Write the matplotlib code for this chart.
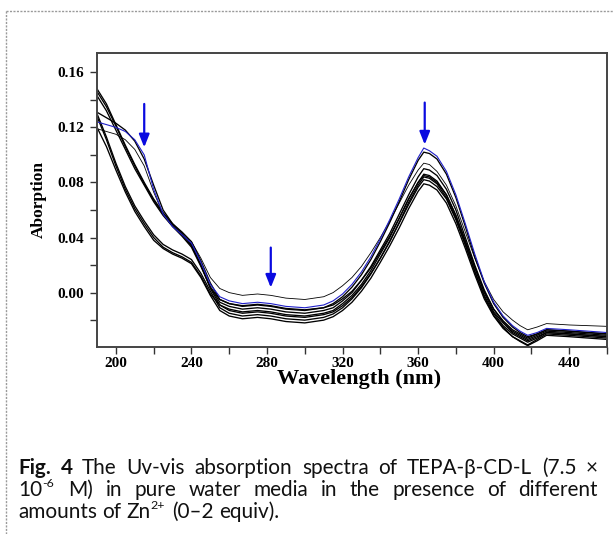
import matplotlib
matplotlib.use("Agg")
import matplotlib.pyplot as plt
from matplotlib.lines import Line2D
from matplotlib.ticker import MultipleLocator, FixedLocator

# ---------------- data ----------------
wavelength = [190, 195, 200, 205, 210, 215, 220, 225, 230, 235, 240, 245, 250,
              255, 260, 267, 275, 282, 290, 300,
              310, 315, 320, 325, 330, 335, 340, 345, 350, 355, 360, 363, 366,
              370, 375, 380, 385, 390, 395, 400, 405, 410, 414,
              418, 423, 428, 440, 460]

abs_blue = [0.124, 0.122, 0.120, 0.117, 0.111, 0.100, 0.075, 0.057, 0.048, 0.042, 0.036, 0.022, 0.006,
            -0.003, -0.006, -0.008, -0.007, -0.008, -0.010, -0.011,
            -0.009, -0.006, -0.001, 0.006, 0.015, 0.026, 0.039, 0.053, 0.068, 0.084, 0.098, 0.105, 0.103,
            0.099, 0.088, 0.071, 0.050, 0.028, 0.008, -0.007, -0.017, -0.024, -0.028,
            -0.031, -0.029, -0.026, -0.027, -0.029]

abs_thin = [0.119, 0.117, 0.115, 0.111, 0.104, 0.092, 0.073, 0.057, 0.048, 0.042, 0.037, 0.025, 0.011,
            0.003, 0.000, -0.002, -0.001, -0.002, -0.004, -0.005,
            -0.003, 0.000, 0.005, 0.011, 0.019, 0.029, 0.040, 0.052, 0.065, 0.078, 0.089, 0.094, 0.093,
            0.088, 0.078, 0.063, 0.044, 0.025, 0.008, -0.005, -0.014, -0.020, -0.024,
            -0.027, -0.025, -0.0225, -0.0235, -0.0245]

abs_k1 = [0.131, 0.127, 0.123, 0.118, 0.110, 0.097, 0.078, 0.060, 0.050, 0.044, 0.037, 0.023, 0.007,
          -0.005, -0.008, -0.010, -0.009, -0.010, -0.012, -0.013,
          -0.011, -0.008, -0.003, 0.004, 0.013, 0.024, 0.037, 0.051, 0.066, 0.082, 0.096, 0.102, 0.101,
          0.097, 0.086, 0.069, 0.048, 0.026, 0.007, -0.008, -0.018, -0.025, -0.029,
          -0.032, -0.030, -0.027, -0.028, -0.030]

abs_k2 = [0.146, 0.135, 0.121, 0.106, 0.092, 0.079, 0.067, 0.057, 0.049, 0.042, 0.034, 0.020, 0.004,
          -0.007, -0.010, -0.012, -0.011, -0.012, -0.014, -0.015,
          -0.013, -0.011, -0.006, 0.000, 0.009, 0.019, 0.031, 0.043, 0.057, 0.071, 0.084, 0.090, 0.089,
          0.085, 0.075, 0.060, 0.040, 0.020, 0.002, -0.012, -0.021, -0.028, -0.031,
          -0.034, -0.031, -0.028, -0.029, -0.031]

abs_k3 = [0.148, 0.137, 0.122, 0.107, 0.093, 0.080, 0.068, 0.058, 0.050, 0.043, 0.035, 0.020, 0.003,
          -0.009, -0.012, -0.014, -0.013, -0.014, -0.016, -0.017,
          -0.015, -0.013, -0.008, -0.002, 0.006, 0.016, 0.028, 0.040, 0.054, 0.068, 0.080, 0.086, 0.085,
          0.081, 0.071, 0.056, 0.037, 0.018, 0.000, -0.014, -0.022, -0.029, -0.032,
          -0.035, -0.032, -0.029, -0.030, -0.032]

abs_k4 = [0.143, 0.132, 0.118, 0.104, 0.090, 0.078, 0.066, 0.056, 0.048, 0.041, 0.033, 0.019, 0.004,
          -0.005, -0.008, -0.0095, -0.0085, -0.0095, -0.0115, -0.0125,
          -0.011, -0.009, -0.0045, 0.001, 0.009, 0.018, 0.0295, 0.041, 0.054, 0.068, 0.080, 0.085, 0.084,
          0.080, 0.071, 0.056, 0.0375, 0.0185, 0.001, -0.012, -0.0205, -0.027, -0.030,
          -0.033, -0.030, -0.027, -0.028, -0.030]

abs_k5 = [0.130, 0.113, 0.094, 0.077, 0.063, 0.052, 0.042, 0.035, 0.031, 0.028, 0.024, 0.014, 0.001,
          -0.011, -0.015, -0.017, -0.016, -0.017, -0.019, -0.020,
          -0.018, -0.0155, -0.011, -0.0045, 0.0035, 0.0135, 0.025, 0.0375, 0.051, 0.0655, 0.078, 0.084, 0.083,
          0.079, 0.069, 0.054, 0.035, 0.015, -0.003, -0.0165, -0.025, -0.032, -0.035,
          -0.038, -0.034, -0.030, -0.031, -0.033]

abs_k6 = [0.128, 0.111, 0.092, 0.075, 0.061, 0.050, 0.040, 0.033, 0.029, 0.026, 0.022, 0.012, -0.001,
          -0.009, -0.013, -0.015, -0.014, -0.015, -0.017, -0.018,
          -0.016, -0.014, -0.0095, -0.0035, 0.0045, 0.014, 0.025, 0.037, 0.0505, 0.064, 0.0765, 0.082, 0.081,
          0.077, 0.068, 0.053, 0.0345, 0.0155, -0.002, -0.015, -0.024, -0.030, -0.033,
          -0.036, -0.033, -0.029, -0.030, -0.032]

abs_k7 = [0.120, 0.106, 0.089, 0.073, 0.059, 0.048, 0.038, 0.032, 0.028, 0.025, 0.021, 0.011, -0.002,
          -0.013, -0.017, -0.019, -0.018, -0.019, -0.021, -0.022,
          -0.020, -0.0175, -0.013, -0.007, 0.001, 0.0105, 0.022, 0.034, 0.047, 0.061, 0.0735, 0.079, 0.078,
          0.0745, 0.065, 0.050, 0.032, 0.013, -0.0045, -0.017, -0.026, -0.032, -0.0355,
          -0.0385, -0.035, -0.031, -0.032, -0.034]

black_series = [abs_k7, abs_k6, abs_k5, abs_k3, abs_k2, abs_k4, abs_k1]
thin_series = [abs_thin]

x_ticks = [200, 240, 280, 320, 360, 400, 440]
y_ticks = [0.00, 0.04, 0.08, 0.12, 0.16]

# arrows: (wavelength, start absorbance, end absorbance)
arrow_x = [215, 282, 363.5]
arrow_from = [0.137, 0.0327, 0.138]
arrow_to = [0.1055, 0.0036, 0.1075]

# ---------------- figure ----------------
W, H = 613, 534
fig = plt.figure(figsize=(W / 100, H / 100), dpi=100)
fig.patch.set_facecolor("white")

ax = fig.add_axes([97 / W, 1 - 347 / H, (607 - 97) / W, (347 - 53) / H])

for s in black_series:
    ax.plot(wavelength, s, color="black", lw=0.95, solid_joinstyle="round")
for s in thin_series:
    ax.plot(wavelength, s, color="black", lw=0.6)
ax.plot(wavelength, abs_blue, color="#2020c8", lw=0.8)

for xa, y0, y1 in zip(arrow_x, arrow_from, arrow_to):
    ax.annotate("", xy=(xa, y1), xytext=(xa, y0),
                arrowprops=dict(arrowstyle="-|>,head_length=0.55,head_width=0.22", color="#0a0ae0",
                                lw=1.6, mutation_scale=14, shrinkA=0, shrinkB=0))

ax.set_xlim(190, 460)
ax.set_ylim(-0.0395, 0.174)
ax.xaxis.set_major_locator(FixedLocator(x_ticks))
ax.xaxis.set_minor_locator(MultipleLocator(20))
ax.yaxis.set_major_locator(FixedLocator(y_ticks))
ax.yaxis.set_minor_locator(MultipleLocator(0.02))
ax.set_xticklabels([str(v) for v in x_ticks])
ax.set_yticklabels(["%.2f" % v for v in y_ticks])

serif = ["Liberation Serif", "DejaVu Serif"]
for lab in ax.get_xticklabels() + ax.get_yticklabels():
    lab.set_fontfamily(serif)
    lab.set_fontweight("bold")
    lab.set_fontsize(11)

ax.tick_params(which="both", direction="out", length=5, width=1.0, color="#333333")
ax.tick_params(axis="x", which="both", pad=2)
ax.tick_params(axis="y", which="both", pad=4)
for sp in ax.spines.values():
    sp.set_color("#444444")
    sp.set_linewidth(1.4)

ax.set_xlabel("Wavelength (nm)", fontfamily=serif, fontweight="bold", fontsize=16, labelpad=-3)
ax.xaxis.set_label_coords((359 - 97) / (607 - 97), -0.075)
ax.xaxis.label.set_va("top")
ax.set_ylabel("Aborption", fontfamily=serif, fontweight="bold", fontsize=12.5)
ax.yaxis.set_label_coords((47 - 97) / (607 - 97), 0.5)

# ---------------- dashed frame ----------------
fig.add_artist(Line2D([6 / W, 1.0], [1 - 11 / H, 1 - 11 / H], transform=fig.transFigure,
                      color="#9a9a9a", lw=1.0, linestyle=(0, (1.5, 1.0))))
fig.add_artist(Line2D([6 / W, 6 / W], [1 - 11 / H, 0.0], transform=fig.transFigure,
                      color="#9a9a9a", lw=1.0, linestyle=(0, (1.5, 1.0))))

# ---------------- caption (justified) ----------------
cap_font = ["Lato", "Noto Sans", "DejaVu Sans"]
caption_lines = [
    [[("Fig.", "b")], [("4", "b")], [("The", "n")], [("Uv-vis", "n")], [("absorption", "n")],
     [("spectra", "n")], [("of", "n")], [("TEPA-β-CD-L", "n")], [("(7.5", "n")], [("×", "n")]],
    [[("10", "n"), ("-6", "s")], [("M)", "n")], [("in", "n")], [("pure", "n")], [("water", "n")],
     [("media", "n")], [("in", "n")], [("the", "n")], [("presence", "n")], [("of", "n")],
     [("different", "n")]],
    [[("amounts", "n")], [("of", "n")], [("Zn", "n"), ("2+", "s")], [("(0–2", "n")], [("equiv).", "n")]],
]
justify = [True, True, False]
line_y = [466, 488, 510]
x_left, x_right = 18, 598

renderer = fig.canvas.get_renderer()
cap_size = 12.0


def seg_props(kind, size):
    if kind == "b":
        return dict(fontsize=size, fontweight="bold")
    if kind == "s":
        return dict(fontsize=size * 0.6, fontweight="normal")
    return dict(fontsize=size, fontweight="normal")


def measure(txt, kind, size):
    t = fig.text(0, 0, txt, family=cap_font, **seg_props(kind, size))
    w = t.get_window_extent(renderer).width
    t.remove()
    return w


# fit the font size so the first line, with natural spaces, nearly fills the column
sp0 = measure("a b", "n", cap_size) - measure("ab", "n", cap_size)
nat = sum(measure(t, k, cap_size) for wd in caption_lines[0] for t, k in wd) + sp0 * (len(caption_lines[0]) - 1)
cap_size = cap_size * (x_right - x_left - 40) / nat

space_w = measure("a b", "n", cap_size) - measure("ab", "n", cap_size)
for words, just, ly in zip(caption_lines, justify, line_y):
    widths = [[measure(txt, k, cap_size) for txt, k in wd] for wd in words]
    totals = [sum(w) + (2 if any(k == "s" for _, k in wd) else 0) for w, wd in zip(widths, words)]
    if just and len(words) > 1:
        gap = (x_right - x_left - sum(totals)) / (len(words) - 1)
    else:
        gap = space_w
    x = x_left
    for wd, ws, tot in zip(words, widths, totals):
        xx = x
        for (txt, k), w in zip(wd, ws):
            dy = -5.5 if k == "s" else 0
            fig.text(xx / W, 1 - (ly + dy) / H, txt, family=cap_font, va="center_baseline",
                     ha="left", color="#111111", **seg_props(k, cap_size))
            xx += w + (2 if k == "s" else 0)
        x += tot + gap

fig.savefig("out.png", dpi=100, facecolor="white")
